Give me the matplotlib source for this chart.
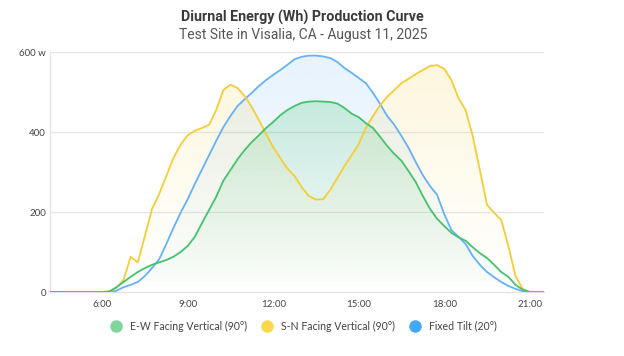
import numpy as np
import matplotlib.pyplot as plt
from matplotlib.colors import to_rgb
from matplotlib.lines import Line2D

# ---- data (hours of day, Wh) ----
hours = [4.17,
         6.00, 6.25, 6.50, 6.75, 7.00, 7.25, 7.50, 7.75, 8.00, 8.25, 8.50, 8.75,
         9.00, 9.25, 9.50, 9.75, 10.00, 10.25, 10.50, 10.75, 11.00, 11.25, 11.50, 11.75,
         12.00, 12.25, 12.50, 12.75, 13.00, 13.25, 13.50, 13.75, 14.00, 14.25, 14.50, 14.75,
         15.00, 15.25, 15.50, 15.75, 16.00, 16.25, 16.50, 16.75, 17.00, 17.25, 17.50, 17.75,
         18.00, 18.25, 18.50, 18.75, 19.00, 19.25, 19.50, 19.75, 20.00, 20.25, 20.50, 20.75,
         21.00, 21.50]

ew_vertical = [0,
    0, 1, 12, 25, 38, 50, 60, 68, 74, 80, 88, 100,
    115, 138, 172, 205, 238, 278, 305, 332, 355, 375, 392, 410,
    425, 442, 455, 465, 473, 476, 477, 476, 475, 471, 460, 446,
    437, 422, 410, 388, 365, 345, 328, 302, 275, 240, 208, 183,
    165, 148, 137, 128, 112, 97, 85, 68, 50, 38, 18, 6,
    0, 0]

sn_vertical = [0,
    0, 2, 10, 30, 88, 74, 140, 208, 245, 290, 335, 368,
    392, 403, 410, 418, 455, 505, 518, 510, 490, 462, 430, 395,
    362, 335, 308, 290, 262, 240, 231, 232, 255, 285, 315, 342,
    370, 410, 440, 467, 488, 505, 522, 533, 545, 555, 565, 567,
    558, 530, 485, 455, 390, 305, 218, 198, 180, 115, 40, 8,
    0, 0]

fixed_tilt = [0,
    0, 0, 3, 12, 18, 25, 40, 60, 82, 120, 160, 198,
    232, 270, 306, 342, 378, 412, 440, 465, 482, 498, 515, 530,
    543, 555, 568, 582, 588, 591, 591, 589, 585, 575, 560, 548,
    535, 522, 498, 470, 440, 418, 390, 360, 325, 292, 265, 243,
    195, 155, 138, 120, 90, 68, 50, 37, 25, 15, 8, 2,
    0, 0]

series_names = ["E-W Facing Vertical (90°)", "S-N Facing Vertical (90°)", "Fixed Tilt (20°)"]
x_ticks = [6, 9, 12, 15, 18, 21]
x_tick_labels = ["6:00", "9:00", "12:00", "15:00", "18:00", "21:00"]
y_ticks = [0, 200, 400, 600]
y_tick_labels = ["0", "200", "400", "600 w"]

line_colors = ["#45c26f", "#f5cd35", "#66b2f6"]
legend_colors = ["#7fd59c", "#fbd84a", "#44a8f7"]
fill_alpha = [0.22, 0.16, 0.16]

fig = plt.figure(figsize=(6.24, 3.56), dpi=100)
ax = fig.add_axes([50/624, 1-292/356, (544-50)/624, (292-52)/356])
ax.set_xlim(4.17, 21.5)
ax.set_ylim(0, 600)

x = np.array(hours)
data = [np.array(ew_vertical), np.array(sn_vertical), np.array(fixed_tilt)]

# gradient fills
draw_order = [2, 1, 0]
for i in draw_order:
    y = data[i]
    poly = ax.fill_between(x, 0, y, color='none', lw=0)
    r, g, b = to_rgb(line_colors[i])
    ymax = y.max()
    n = 256
    grad = np.zeros((n, 1, 4))
    grad[:, 0, 0] = r
    grad[:, 0, 1] = g
    grad[:, 0, 2] = b
    grad[:, 0, 3] = np.linspace(fill_alpha[i], 0.0, n)
    im = ax.imshow(grad, extent=[x.min(), x.max(), 0, ymax], origin='upper',
                   aspect='auto', zorder=1.5)
    im.set_clip_path(poly.get_paths()[0], transform=ax.transData)

for i in draw_order:
    ax.plot(x, data[i], color=line_colors[i], lw=1.3, zorder=3,
            solid_joinstyle='round', solid_capstyle='round')

ax.set_xlim(4.17, 21.5)
ax.set_ylim(0, 600)

# grid & axes styling
for yv in [200, 400, 600]:
    ax.axhline(yv, color="#e6e6e6", lw=0.9, zorder=0.5)
for s in ["top", "right"]:
    ax.spines[s].set_visible(False)
ax.spines["left"].set_color("#e3e3e3")
ax.spines["bottom"].set_color("#e3e3e3")
ax.spines["left"].set_linewidth(0.9)
ax.spines["bottom"].set_linewidth(0.9)

ax.set_xticks(x_ticks)
ax.set_xticklabels(x_tick_labels, fontsize=7, color="#444444", family="Lato")
ax.set_yticks(y_ticks)
ax.set_yticklabels(y_tick_labels, fontsize=7, color="#444444", family="Lato")
ax.tick_params(length=0, pad=3)
ax.tick_params(axis='x', pad=6)

# titles
fig.text(302/624, 1-17/356, "Diurnal Energy (Wh) Production Curve", ha='center', va='center',
         fontsize=10.3, fontweight='bold', color="#3a3a3a", family="Roboto")
fig.text(303/624, 1-35/356, "Test Site in Visalia, CA - August 11, 2025", ha='center', va='center',
         fontsize=10, color="#555555", family="Roboto")

# legend
handles = [Line2D([0], [0], marker='o', linestyle='none', markersize=8,
                  markerfacecolor=c, markeredgecolor=c) for c in legend_colors]
leg = fig.legend(handles, series_names, loc='center', bbox_to_anchor=(301/624, 1-326/356),
                 ncol=3, frameon=False, handletextpad=0.3, columnspacing=0.9,
                 prop={'family': 'Lato', 'size': 7.6})
for t in leg.get_texts():
    t.set_color("#444444")

fig.savefig("out.png", dpi=100)
